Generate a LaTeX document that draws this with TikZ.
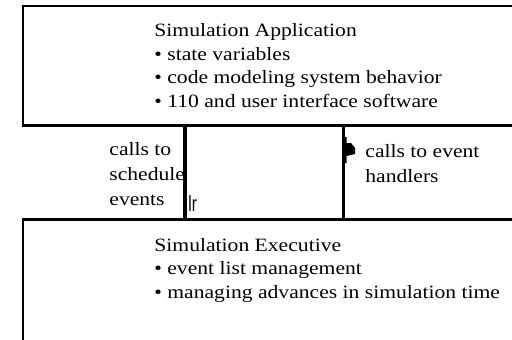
\documentclass[tikz,border=0pt]{standalone}
\usepackage{fontspec}
\setmainfont{Liberation Serif}[FakeStretch=1.15]
\newfontfamily\tipfont{Liberation Sans}[FakeStretch=0.7]
\usepackage{tikz}
\usetikzlibrary{positioning}

\tikzset{
    layer/.style={draw, line width=1.1pt, rectangle, outer sep=0pt, inner sep=0pt, minimum width=258.5pt},
    txt/.style={align=left, inner sep=0pt, anchor=base west, font=\fontsize{9.4}{11.75}\selectfont},
    lbl/.style={txt, font=\fontsize{9.4}{12.4}\selectfont},
}

\begin{document}
\begin{tikzpicture}[x=0.5pt, y=-0.5pt]
        \path[use as bounding box, clip] (0,0) rectangle (512,339);

        % the two layers
        \node[layer, anchor=north west, minimum height=59.75pt] (app) at (23,6) {};
        \node[layer, anchor=north west, minimum height=80pt] (exec) at (23,219.5) {};

        % base of a multi-line node = its last line
        \node[txt] (apptxt) at (154,107) {Simulation Application\\
            \textbullet\ state variables\\
            \textbullet\ code modeling system behavior\\
            \textbullet\ 110 and user interface software};
        \node[txt] (exectxt) at (154,298) {Simulation Executive\\
            \textbullet\ event list management\\
            \textbullet\ managing advances in simulation time};

        % calls between them
        \coordinate (sched) at (184.5,0);
        \coordinate (hand) at (343.3,0);
        \draw[line width=2pt] (app.south -| sched) -- (exec.north -| sched);
        \draw[line width=1.25pt] (app.south -| hand) -- (exec.north -| hand);
        \fill (342,137) -- (346.5,137) -- (346.5,143) -- (351,143) -- (355,148)
            -- (355,154) -- (346.5,156) -- (346.5,163) -- (342,163) -- cycle;
        \node[anchor=base west, inner sep=0pt, font=\tipfont\fontsize{11}{11}\selectfont] (tip) at (188,211) {lr};

        \node[lbl] (schedlbl) at (109,205) {calls to\\ schedule\\ events};
        \node[lbl] (handlbl) at (365,182) {calls to event\\ handlers};
    \end{tikzpicture}
\end{document}
